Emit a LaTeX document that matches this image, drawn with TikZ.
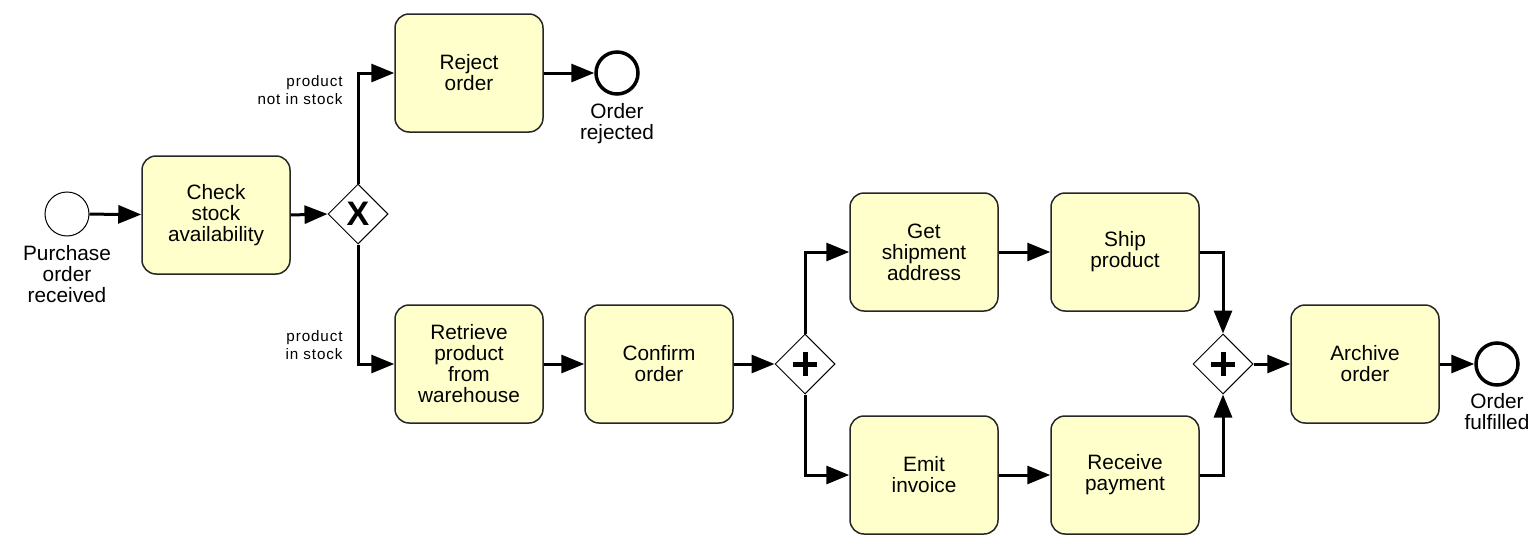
\documentclass[tikz,border=0pt]{standalone}
\usepackage{fontspec}
\setmainfont{Liberation Sans}
\newfontfamily\lblfont[LetterSpace=6]{Liberation Sans}
\usetikzlibrary{arrows.meta,shapes.geometric}
\definecolor{taskyellow}{RGB}{255,255,204}
\begin{document}
\begin{tikzpicture}[x=0.5pt,y=-0.5pt,
    task/.style={draw=black!85,line width=0.75pt,fill=taskyellow,rounded corners=7pt,minimum width=74pt,minimum height=59pt,inner sep=0pt,align=center,font=\fontsize{10.4}{10.5}\selectfont},
    gate/.style={draw,diamond,fill=white,line width=0.5pt,minimum width=30pt,minimum height=30pt,inner sep=0pt},
    startev/.style={draw,circle,line width=0.5pt,minimum size=22pt,inner sep=0pt},
    endev/.style={draw,circle,line width=1.75pt,minimum size=21pt,inner sep=0pt},
    evlabel/.style={align=center,inner sep=0pt,font=\fontsize{10.4}{10.5}\selectfont},
    condlabel/.style={align=right,inner sep=0pt,font=\lblfont\fontsize{7.6}{9}\selectfont},
    flow/.style={line width=1.5pt,-{Triangle[length=11.5pt,width=9pt]}}]
    \useasboundingbox (0,0) rectangle (1537,557);
    % events
    \node[startev] (start) at (67,214) {};
    \node[evlabel,anchor=north] (startlbl) at (67,245) {Purchase\\order\\received};
    \node[endev] (rejected) at (617,73) {};
    \node[evlabel,anchor=north] (rejectedlbl) at (617,103) {Order\\rejected};
    \node[endev] (fulfilled) at (1497,364) {};
    \node[evlabel,anchor=north] (fulfilledlbl) at (1497,393) {Order\\fulfilled};
    % tasks
    \node[task] (check) at (216,215) {Check\\stock\\availability};
    \node[task] (reject) at (469,73) {Reject\\order};
    \node[task] (retrieve) at (469,364) {Retrieve\\product\\from\\warehouse};
    \node[task] (confirm) at (659,364) {Confirm\\order};
    \node[task] (getaddr) at (924,252) {Get\\shipment\\address};
    \node[task] (ship) at (1125,252) {Ship\\product};
    \node[task] (invoice) at (924,475) {Emit\\invoice};
    \node[task] (payment) at (1125,475) {Receive\\payment};
    \node[task] (archive) at (1365,364) {Archive\\order};
    % gateways
    \node[gate] (xor) at (358,214) {};
    \node[font=\bfseries\fontsize{17}{17}\selectfont,inner sep=0pt] (xorsym) at (xor) {X};
    \node[gate] (andsplit) at (805,364) {};
    \node[gate] (andjoin) at (1223,364) {};
    \draw[line width=2.5pt] (andsplit) ++(-12,0) -- ++(24,0) (andsplit) ++(0,-12) -- ++(0,24);
    \draw[line width=2.5pt] (andjoin) ++(-12,0) -- ++(24,0) (andjoin) ++(0,-12) -- ++(0,24);
    % conditions
    \node[condlabel,anchor=east] (notinstock) at (343,90) {product\\not in stock};
    \node[condlabel,anchor=east] (instock) at (343,345) {product\\in stock};
    % flows
    \draw[flow] (start) -- (check);
    \draw[flow] (check.east) -- (xor.west);
    \draw[flow] (xor.north) |- (reject.west);
    \draw[flow] (xor.south) |- (retrieve.west);
    \draw[flow] (reject) -- (rejected);
    \draw[flow] (retrieve) -- (confirm);
    \draw[flow] (confirm) -- (andsplit);
    \draw[flow] (andsplit.north) |- (getaddr.west);
    \draw[flow] (andsplit.south) |- (invoice.west);
    \draw[flow] (getaddr) -- (ship);
    \draw[flow] (invoice) -- (payment);
    \draw[flow] (ship.east) -| (andjoin.north);
    \draw[flow] (payment.east) -| (andjoin.south);
    \draw[flow] (andjoin) -- (archive);
    \draw[flow] (archive) -- (fulfilled);
\end{tikzpicture}
\end{document}
